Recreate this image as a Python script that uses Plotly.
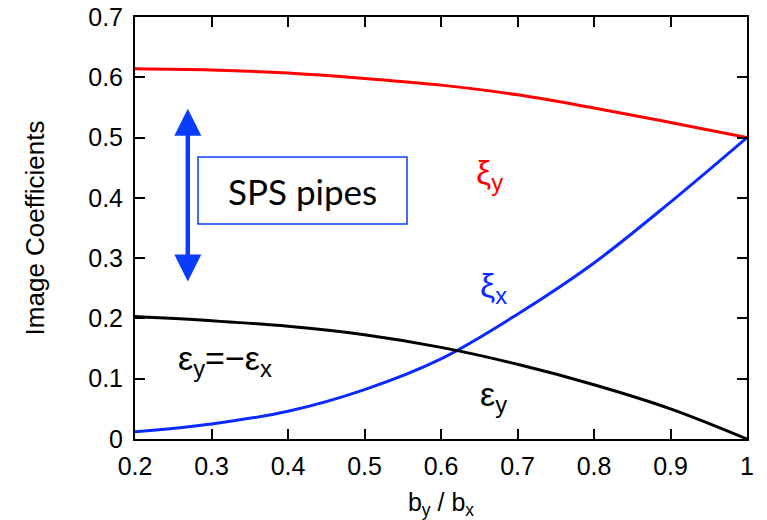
import plotly.graph_objects as go

ratio = [0.2, 0.3, 0.4, 0.5, 0.6, 0.7, 0.8, 0.9, 1.0]
xi_y = [0.614, 0.612, 0.607, 0.598, 0.587, 0.571, 0.549, 0.525, 0.500]
xi_x = [0.012, 0.025, 0.046, 0.082, 0.133, 0.207, 0.292, 0.393, 0.500]
eps_y = [0.203, 0.196, 0.187, 0.173, 0.152, 0.124, 0.090, 0.050, 0.000]

x_ticks = [0.2, 0.3, 0.4, 0.5, 0.6, 0.7, 0.8, 0.9, 1.0]
x_labels = ["0.2", "0.3", "0.4", "0.5", "0.6", "0.7", "0.8", "0.9", "1"]
y_ticks = [0, 0.1, 0.2, 0.3, 0.4, 0.5, 0.6, 0.7]
y_labels = ["0", "0.1", "0.2", "0.3", "0.4", "0.5", "0.6", "0.7"]

RED = "#ff0000"
BLUE = "#0a2aff"
ARROW_BLUE = "#0a3cff"
FONT = "Liberation Sans"

fig = go.Figure()
for ys, col in [(xi_y, RED), (xi_x, BLUE), (eps_y, "black")]:
    fig.add_trace(go.Scatter(x=ratio, y=ys, mode="lines",
                             line=dict(color=col, width=3, shape="spline", smoothing=1.0),
                             showlegend=False, hoverinfo="skip"))

axis_common = dict(showline=True, linecolor="black", linewidth=2, mirror="ticks",
                   ticks="inside", ticklen=10, tickwidth=2, tickcolor="black",
                   showgrid=False, zeroline=False, automargin=False,
                   tickfont=dict(family=FONT, size=25, color="black"))

fig.update_xaxes(range=[0.2, 1.0], tickvals=x_ticks, ticktext=x_labels,
                 title=dict(text="b<sub>y</sub> / b<sub>x</sub>",
                            font=dict(family=FONT, size=25, color="black"), standoff=18),
                 ticklabelstandoff=4, **axis_common)
fig.update_yaxes(range=[0, 0.7], tickvals=y_ticks, ticktext=y_labels,
                 title=dict(text="Image Coefficients",
                            font=dict(family=FONT, size=26, color="black"), standoff=36),
                 ticklabelstandoff=5, **axis_common)

lab_font = dict(family=FONT, size=34)
fig.add_annotation(x=0.664, y=0.438, text="ξ<sub>y</sub>", showarrow=False,
                   font=dict(color=RED, **lab_font))
fig.add_annotation(x=0.668, y=0.252, text="ξ<sub>x</sub>", showarrow=False,
                   font=dict(color=BLUE, **lab_font))
fig.add_annotation(x=0.668, y=0.070, text="ε<sub>y</sub>", showarrow=False,
                   font=dict(color="black", **lab_font))
fig.add_annotation(x=0.318, y=0.131, text="ε<sub>y</sub>=−ε<sub>x</sub>", showarrow=False,
                   font=dict(color="black", **lab_font))

# SPS pipes box
fig.add_shape(type="rect", x0=0.2824, x1=0.5556, y0=0.3566, y1=0.4677,
              line=dict(color=ARROW_BLUE, width=1.5), fillcolor="white")
fig.add_annotation(x=0.419, y=0.412, text="SPS pipes", showarrow=False,
                   font=dict(family="Lato", size=35, color="black"))

# double arrow
fig.add_annotation(x=0.269, y=0.548, ax=0.269, ay=0.2587, xref="x", yref="y",
                   axref="x", ayref="y", text="", showarrow=True,
                   arrowhead=2, arrowside="end+start", arrowwidth=4.5, arrowsize=1.2,
                   arrowcolor=ARROW_BLUE, standoff=0, startstandoff=0)

fig.update_layout(width=767, height=520, margin=dict(l=135, r=20, t=17, b=81),
                  plot_bgcolor="white", paper_bgcolor="white")

fig.write_html("out.html")
